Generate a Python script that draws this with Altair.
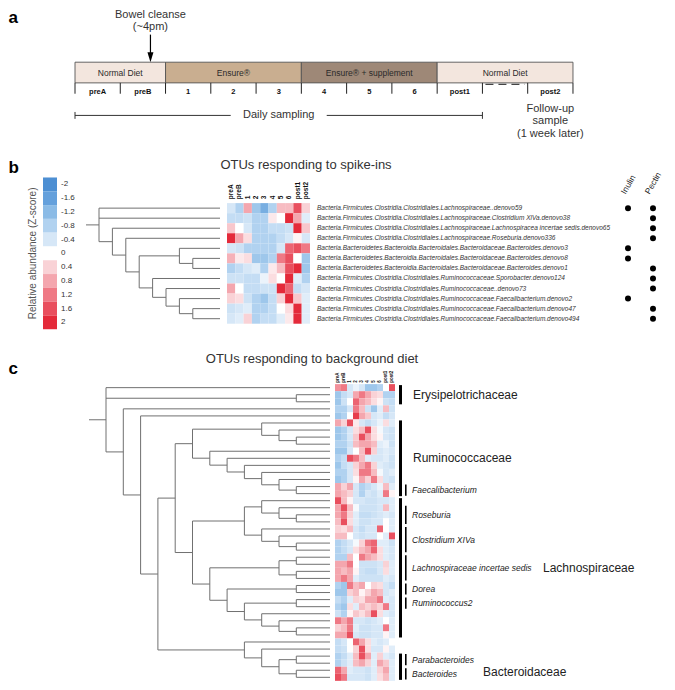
import altair as alt
import pandas as pd

FONT = "Liberation Sans"

# ---------------- data ----------------
timeline_slots = ["preA", "preB", "1", "2", "3", "4", "5", "6", "post1", "", "post2"]
phase_names = ["Normal Diet", "Ensure\u00ae", "Ensure\u00ae + supplement", "Normal Diet"]
phase_start = [0, 2, 5, 8]
phase_end = [2, 5, 8, 11]
cleanse_slot = 1 + 16 / 24          # ~4 pm on the preB day
daily_sampling_end = 9              # daily sampling covers slots 0..9
gap_slot = 9                        # dashed gap before the follow-up

samples = ["preA", "preB", "1", "2", "3", "4", "5", "6", "post1", "post2"]
legend_values = [-2, -1.6, -1.2, -0.8, -0.4, 0, 0.4, 0.8, 1.2, 1.6, 2]
legend_labels = ["-2", "-1.6", "-1.2", "-0.8", "-0.4", "0", "0.4", "0.8", "1.2", "1.6", "2"]

b_labels = [
    "Bacteria.Firmicutes.Clostridia.Clostridiales.Lachnospiraceae..denovo59",
    "Bacteria.Firmicutes.Clostridia.Clostridiales.Lachnospiraceae.Clostridium XlVa.denovo38",
    "Bacteria.Firmicutes.Clostridia.Clostridiales.Lachnospiraceae.Lachnospiracea incertae sedis.denovo65",
    "Bacteria.Firmicutes.Clostridia.Clostridiales.Lachnospiraceae.Roseburia.denovo336",
    "Bacteria.Bacteroidetes.Bacteroidia.Bacteroidales.Bacteroidaceae.Bacteroides.denovo3",
    "Bacteria.Bacteroidetes.Bacteroidia.Bacteroidales.Bacteroidaceae.Bacteroides.denovo8",
    "Bacteria.Bacteroidetes.Bacteroidia.Bacteroidales.Bacteroidaceae.Bacteroides.denovo1",
    "Bacteria.Firmicutes.Clostridia.Clostridiales.Ruminococcaceae.Sporobacter.denovo124",
    "Bacteria.Firmicutes.Clostridia.Clostridiales.Ruminococcaceae..denovo73",
    "Bacteria.Firmicutes.Clostridia.Clostridiales.Ruminococcaceae.Faecalibacterium.denovo2",
    "Bacteria.Firmicutes.Clostridia.Clostridiales.Ruminococcaceae.Faecalibacterium.denovo47",
    "Bacteria.Firmicutes.Clostridia.Clostridiales.Ruminococcaceae.Faecalibacterium.denovo494",
]
b_values = [
    [-0.4, -0.8, 0.8, -1.0, -1.4, -0.8, 0.6, 0.6, 1.6, 0.4],
    [-0.6, -0.6, -0.5, -0.8, -0.8, 0.2, 0.0, 2.0, 0.8, -0.3],
    [0.5, 0.0, -0.4, -0.8, -0.8, -0.6, -0.6, -0.5, 2.0, 0.5],
    [2.0, 0.8, 0.3, -0.8, -0.8, -0.8, -0.6, -0.4, 0.1, -0.4],
    [-0.4, -0.5, -0.8, -0.8, -0.8, -0.8, -0.4, 1.4, 1.6, 1.2],
    [0.7, 0.2, 0.3, -1.0, -1.0, -0.8, 1.2, 1.6, 0.0, -1.0],
    [-0.8, -0.6, -0.4, -0.3, -0.8, 0.2, 0.6, 1.6, 2.0, -1.0],
    [-0.5, -0.5, -0.6, -0.6, -0.2, 0.3, 0.0, 2.0, -0.3, -0.8],
    [0.8, 0.0, -0.6, -0.6, -0.5, -0.5, 2.0, 1.4, -0.6, -0.4],
    [0.4, 0.3, -0.5, -0.8, -1.0, -0.6, 0.4, 2.0, 0.5, -0.3],
    [-0.5, -0.4, -0.3, -0.8, -0.8, -0.6, 0.0, 0.3, 2.0, -0.3],
    [-0.4, -0.3, 0.4, -0.8, -0.6, -0.6, -0.3, 0.2, 2.0, -0.3],
]
b_inulin = [1, 0, 0, 0, 1, 1, 0, 0, 0, 1, 0, 0]
b_pectin = [1, 1, 1, 1, 0, 0, 1, 1, 1, 0, 1, 1]
# dendrogram: [level, child, child, ...]; integers are leaf rows
b_tree = [0, 0, 1, [1, 2, [2, 3, [3, [6, 4, [7, 5, 6]],
                                  [4, 7, [5, 8, [6, 9, [7, 10, 11]]]]]]]]

c_values = [
    [1.0, 1.2, -0.4, -0.2, -0.4, -1.0, -1.0, -0.8, 0.0, 1.6],
    [-1.0, -0.6, -0.4, 0.8, 1.2, 0.8, 0.4, 0.3, -0.8, -0.8],
    [-1.0, -0.5, 0.0, 1.4, 0.8, 0.6, 0.3, 0.1, -0.5, -0.6],
    [-0.8, -0.8, -0.4, 1.2, 0.6, -0.5, -1.0, -0.3, 0.6, -0.5],
    [-1.0, -0.8, 0.0, 1.8, 0.8, 0.5, -0.4, -0.3, -0.6, -0.4],
    [0.8, 0.4, 1.6, 0.2, -0.4, -0.6, -0.4, -0.2, 0.3, -0.3],
    [-1.0, -0.8, -0.4, 0.3, 0.6, 1.6, 0.3, -0.1, -0.4, -0.5],
    [-1.0, -0.8, -0.4, 0.5, 1.6, 0.8, 0.3, 0.1, -0.4, -0.5],
    [-0.8, -0.8, -0.5, 0.6, 0.8, 0.8, 0.6, -0.3, -0.2, -0.5],
    [-1.0, -1.0, -0.4, 0.0, 0.6, 1.6, 0.4, -0.4, -0.3, -0.4],
    [-0.8, -0.6, 1.6, 1.2, 0.6, -0.3, -0.4, -0.4, -0.3, -0.5],
    [-1.0, -0.6, -0.4, 0.4, 0.8, 1.2, 0.4, -0.3, -0.4, -0.5],
    [-0.8, -0.8, -0.4, 0.3, 1.2, 1.2, 0.6, -0.1, -0.4, -0.3],
    [-1.0, -0.8, -0.4, 0.1, 0.8, 0.4, 1.2, 0.3, -0.4, -0.5],
    [0.8, 0.4, 0.8, -0.4, -0.8, -0.6, -0.4, -0.2, 0.6, -0.3],
    [0.8, 0.6, 0.4, -0.4, -0.8, -0.4, -0.5, -0.3, 1.2, 0.1],
    [1.6, 0.6, 0.1, -0.4, -0.4, -0.5, -0.5, -0.4, -0.4, -0.3],
    [0.8, 1.6, 0.6, -0.1, -0.5, -0.5, -0.5, -0.4, 0.6, -0.3],
    [0.8, 1.2, 0.4, -0.3, -0.6, -0.6, -0.5, -0.4, -0.3, -0.4],
    [0.6, 1.6, 0.3, -0.3, -0.5, -0.5, -0.4, -0.4, 0.0, -0.3],
    [0.4, 0.3, 0.6, -0.4, -0.6, -0.4, -0.4, 1.4, 0.0, -0.3],
    [0.6, 0.6, 0.0, -0.4, -0.5, -0.4, -0.4, 0.0, -0.3, 1.6],
    [-0.8, -0.6, -0.4, -0.1, 0.4, 1.2, 1.4, -0.3, -0.3, -0.5],
    [-0.8, -0.6, -0.4, 0.3, 0.6, 0.8, 1.4, 0.3, -0.3, -0.4],
    [-0.8, -0.8, 0.6, 0.0, 1.2, 0.8, 0.6, 0.3, -0.3, -0.4],
    [0.8, 0.8, 1.2, 0.0, -0.5, -0.5, -0.5, -0.4, 0.4, -0.3],
    [0.8, 0.6, 0.8, 0.1, -0.5, -0.6, -0.6, -0.4, 0.3, -0.3],
    [0.8, 1.2, 0.8, -0.3, -0.5, -0.5, -0.5, -0.5, -0.3, -0.4],
    [-0.8, -1.0, 1.2, 0.6, 0.8, 0.0, 0.4, 0.3, -0.4, -0.6],
    [-1.0, -1.0, 0.4, 0.6, 0.1, 0.4, 0.8, 0.6, -0.4, -0.3],
    [-0.6, -0.8, -0.3, 0.4, 0.3, 0.8, 0.8, 1.2, -0.3, -0.4],
    [-0.8, -1.0, 0.3, -0.3, 0.6, 0.4, 0.6, 0.4, 1.2, -0.4],
    [-0.5, -0.8, 0.1, 0.5, 0.3, 0.6, 1.6, 0.3, -0.3, -0.4],
    [1.2, 0.8, 1.2, -0.4, -0.4, -0.5, -0.4, -0.3, 0.0, -0.3],
    [0.4, 0.6, 1.2, -0.3, -0.5, -0.5, -0.4, -0.4, 1.2, -0.3],
    [0.8, 0.8, 1.6, -0.4, -0.5, -0.5, -0.4, -0.4, 0.1, -0.3],
    [-0.6, -0.4, 0.0, 1.4, 0.8, 0.3, -0.3, -0.4, -0.3, 0.0],
    [-0.6, -0.5, 0.0, 0.4, 1.6, 0.3, -0.4, -0.4, 0.1, -0.3],
    [-0.8, -0.6, -0.3, 0.6, 1.6, 0.8, -0.3, 0.4, -0.3, -0.4],
    [-0.8, -0.5, -0.3, 0.6, 0.8, 0.4, -0.3, 0.8, 0.5, -0.3],
    [1.4, 0.8, -0.3, -0.4, -0.4, -0.5, -0.3, 0.4, 0.8, -0.3],
    [1.6, 1.2, -0.4, -0.4, -0.4, -0.5, -0.3, 0.3, 0.6, -0.3],
]
c_tree = [0, 0, [11, 1, 2],
          [1, 3, [2, 4, [3,
            [4,
             [5, [9, 5, [10, 6, [11, 7, 8]]],
                 [6, 9, [7, 10, [8, 11, [9, 12, [10, 13, [11, 14, 15]]]]]]],
             [5, [8, [9, 16, [10, 17, [11, 18, 19]]],
                     [9, 20, [10, 21, [11, 22, 23]]]],
                 [6, [10, [11, 24, 25], [11, 26, 27]],
                     [7, [11, 28, 29],
                         [8, [11, 30, 31], [9, 32, [10, 33, [11, 34, 35]]]]]]]],
            [8, 36, [9, 37, [10, [11, 38, 39], [11, 40, 41]]]]]]]]
c_families = ["Erysipelotrichaceae", "Ruminococcaceae", "Lachnospiraceae", "Bacteroidaceae"]
c_family_rows = [(0, 2), (5, 15), (16, 35), (38, 41)]
c_genera = ["Faecalibacterium", "Roseburia", "Clostridium XIVa",
            "Lachnospiraceae incertae sedis", "Dorea", "Ruminococcus2",
            "Parabacteroides", "Bacteroides"]
c_genus_rows = [(14, 15), (17, 19), (20, 23), (24, 27), (28, 29), (30, 31), (38, 39), (40, 41)]

# ---------------- styles / layout ----------------
legend_colors = ["#4d8fd3", "#64a0dc", "#8bbbe6", "#b1d2f0", "#d6e7f7", "#ffffff",
                 "#f9d2d6", "#f4a6ae", "#ef7985", "#e94f5e", "#e42a3a"]
phase_fills = ["#f3e6de", "#c9ae90", "#9e8877", "#f3e6de"]
DENDRO = "#707070"

TL_X0, TL_SLOT, TL_TOP, TL_BOT = 75, 45.27, 59, 80
LG_X0, LG_X1, LG_Y0, LG_H = 43, 57, 176, 14
B_X0, B_W, B_Y0, B_H = 227, 8.3, 202, 10.2
C_X0, C_W, C_Y0, C_H = 335, 6.0, 385.7, 7.17
INULIN_X, PECTIN_X = 628, 653
family_label_x = [413, 413, 543, 483]
family_label_dy = [0, 0, 0, 5]

XS = alt.Scale(domain=[8, 667], nice=False, zero=False)
YS = alt.Scale(domain=[4, 688], nice=False, zero=False, reverse=True)
X = alt.X("x:Q", scale=XS, axis=None)
Y = alt.Y("y:Q", scale=YS, axis=None)
ZCOL = alt.Color("z:Q", scale=alt.Scale(domain=legend_values, range=legend_colors,
                                        interpolate="rgb"), legend=None)

layers = []


def text_layer(rows, size, color="#333", weight="normal", style="normal",
               align="center", baseline="middle", angle=0):
    df = pd.DataFrame(rows, columns=["x", "y", "text"])
    kw = dict(font=FONT, fontSize=size, color=color, fontWeight=weight,
              fontStyle=style, align=align, baseline=baseline)
    if angle:
        kw["angle"] = angle
    return alt.Chart(df).mark_text(**kw).encode(x=X, y=Y, text="text:N")


def rule_layer(segs, color=DENDRO, width=1.0, dash=None):
    df = pd.DataFrame(segs, columns=["x", "y", "x2", "y2"])
    kw = dict(color=color, strokeWidth=width)
    if dash:
        kw["strokeDash"] = dash
    return alt.Chart(df).mark_rule(**kw).encode(x=X, y=Y, x2="x2:Q", y2="y2:Q")


def dendro(tree, leaf_y, leaf_x, level_x, stub):
    segs = []

    def walk(node):
        if isinstance(node, int):
            return leaf_x, leaf_y(node)
        x = level_x(node[0])
        pts = [walk(ch) for ch in node[1:]]
        ys = [p[1] for p in pts]
        segs.append((x, min(ys), x, max(ys)))
        for cx, cy in pts:
            segs.append((x, cy, cx, cy))
        return x, (ys[0] + ys[-1]) / 2

    rx, ry = walk(tree)
    segs.append((rx - stub, ry, rx, ry))
    return segs


def heat_df(values, x0, w, y0, h):
    rows = []
    for i, r in enumerate(values):
        for j, v in enumerate(r):
            rows.append(dict(x=x0 + j * w, x2=x0 + (j + 1) * w,
                             y=y0 + i * h, y2=y0 + (i + 1) * h, z=v))
    return pd.DataFrame(rows)


slot_x = lambda s: TL_X0 + s * TL_SLOT

# ---------------- panel a ----------------
layers.append(text_layer([(8.5, 14, "a")], 17, color="#000", weight="bold", align="left"))
layers.append(text_layer([(slot_x(cleanse_slot), 11, "Bowel cleanse"),
                          (slot_x(cleanse_slot), 23.5, "(~4pm)")], 11))
layers.append(rule_layer([(slot_x(cleanse_slot), 31, slot_x(cleanse_slot), 50)],
                         color="#000", width=1.2))
layers.append(alt.Chart(pd.DataFrame({"x": [slot_x(cleanse_slot)], "y": [54]}))
              .mark_point(shape="M-0.6,-1L0.6,-1L0,1Z", filled=True, size=100,
                          color="#000", opacity=1).encode(x=X, y=Y))
ph = pd.DataFrame({"x": [slot_x(s) for s in phase_start], "x2": [slot_x(e) for e in phase_end],
                   "y": TL_TOP, "y2": TL_BOT, "fill": phase_fills})
layers.append(alt.Chart(ph).mark_rect(stroke="#555", strokeWidth=0.9).encode(
    x=X, x2="x2:Q", y=Y, y2="y2:Q", color=alt.Color("fill:N", scale=None, legend=None)))
layers.append(text_layer([((slot_x(s) + slot_x(e)) / 2, (TL_TOP + TL_BOT) / 2, n)
                          for n, s, e in zip(phase_names, phase_start, phase_end)], 8.5, color="#2a2a2a"))
layers.append(rule_layer([(slot_x(k), TL_BOT, slot_x(k), TL_BOT + 11)
                          for k in range(len(timeline_slots) + 1)], color="#222", width=1))
layers.append(rule_layer([(slot_x(gap_slot) + 3, TL_BOT + 1.5, slot_x(gap_slot + 1) - 3, TL_BOT + 1.5)],
                         color="#444", width=1.2, dash=[8, 5]))
layers.append(text_layer([(slot_x(k + 0.5), 89.5, t) for k, t in enumerate(timeline_slots) if t],
                         7.5, color="#111", weight="bold"))
ds_y = 113
ds_x0, ds_x1 = slot_x(0), slot_x(daily_sampling_end)
ds_mid = (ds_x0 + ds_x1) / 2
layers.append(rule_layer([(ds_x0, ds_y, ds_mid - 48, ds_y), (ds_mid + 48, ds_y, ds_x1, ds_y),
                          (ds_x0, ds_y - 3.5, ds_x0, ds_y + 3.5), (ds_x1, ds_y - 3.5, ds_x1, ds_y + 3.5)],
                         color="#333", width=1))
layers.append(text_layer([(ds_mid, ds_y, "Daily sampling"),
                          (slot_x(10.5), 106, "Follow-up"),
                          (slot_x(10.5), 119, "sample"),
                          (slot_x(10.5), 131.5, "(1 week later)")], 11))

# ---------------- panel b ----------------
layers.append(text_layer([(8.5, 166, "b")], 17, color="#000", weight="bold", align="left"))
layers.append(text_layer([(306, 163, "OTUs responding to spike-ins")], 13))
lg = pd.DataFrame({"x": LG_X0, "x2": LG_X1,
                   "y": [LG_Y0 + k * LG_H for k in range(len(legend_values))],
                   "y2": [LG_Y0 + (k + 1) * LG_H for k in range(len(legend_values))],
                   "z": legend_values})
layers.append(alt.Chart(lg).mark_rect().encode(x=X, x2="x2:Q", y=Y, y2="y2:Q", color=ZCOL))
layers.append(text_layer([(LG_X1 + 4, LG_Y0 + (k + 0.5) * LG_H, t) for k, t in enumerate(legend_labels)],
                         8, align="left"))
layers.append(text_layer([(33, LG_Y0 + len(legend_values) * LG_H / 2, "Relative abundance (Z-score)")],
                         10, color="#555", angle=270))
layers.append(alt.Chart(heat_df(b_values, B_X0, B_W, B_Y0, B_H)).mark_rect().encode(
    x=X, x2="x2:Q", y=Y, y2="y2:Q", color=ZCOL))
layers.append(text_layer([(B_X0 + (j + 0.5) * B_W, B_Y0 - 4, s) for j, s in enumerate(samples)],
                         6.5, color="#111", weight="bold", align="left", angle=270))
layers.append(text_layer([(B_X0 + 10 * B_W + 7, B_Y0 + (i + 0.5) * B_H, t) for i, t in enumerate(b_labels)],
                         6.5, color="#333", style="italic", align="left"))
layers.append(rule_layer(dendro(b_tree, lambda i: B_Y0 + (i + 0.5) * B_H, B_X0 - 7,
                                lambda lv: 99 + 13.4 * lv, 13)))
dots = [(INULIN_X, B_Y0 + (i + 0.5) * B_H) for i, v in enumerate(b_inulin) if v] + \
       [(PECTIN_X, B_Y0 + (i + 0.5) * B_H) for i, v in enumerate(b_pectin) if v]
layers.append(alt.Chart(pd.DataFrame(dots, columns=["x", "y"])).mark_circle(
    size=36, color="#000", opacity=1).encode(x=X, y=Y))
layers.append(text_layer([(INULIN_X - 5, 192, "Inulin"), (PECTIN_X - 6, 192, "Pectin")], 8.5,
                         color="#222", align="left", angle=300))

# ---------------- panel c ----------------
layers.append(text_layer([(8.5, 370, "c")], 17, color="#000", weight="bold", align="left"))
layers.append(text_layer([(312, 360, "OTUs responding to background diet")], 13))
layers.append(alt.Chart(heat_df(c_values, C_X0, C_W, C_Y0, C_H)).mark_rect().encode(
    x=X, x2="x2:Q", y=Y, y2="y2:Q", color=ZCOL))
layers.append(text_layer([(C_X0 + (j + 0.5) * C_W, C_Y0 - 1.5, s) for j, s in enumerate(samples)],
                         4.5, color="#111", weight="bold", align="left", angle=270))
layers.append(rule_layer(dendro(c_tree, lambda i: C_Y0 + (i + 0.5) * C_H, C_X0 - 5,
                                lambda lv: 106 + 17.3 * lv, 17)))
fam_bars = pd.DataFrame({"x": 399, "x2": 402,
                         "y": [C_Y0 + a * C_H + 1 for a, b in c_family_rows],
                         "y2": [C_Y0 + (b + 1) * C_H - 1 for a, b in c_family_rows]})
gen_bars = pd.DataFrame({"x": 405, "x2": 406.6,
                         "y": [C_Y0 + a * C_H + 1.5 for a, b in c_genus_rows],
                         "y2": [C_Y0 + (b + 1) * C_H - 1.5 for a, b in c_genus_rows]})
for bars in (fam_bars, gen_bars):
    layers.append(alt.Chart(bars).mark_rect(color="#000").encode(x=X, x2="x2:Q", y=Y, y2="y2:Q"))
layers.append(text_layer([(lx, C_Y0 + (a + b + 1) / 2 * C_H + dy, n) for n, (a, b), lx, dy
                          in zip(c_families, c_family_rows, family_label_x, family_label_dy)],
                         12, color="#222", align="left"))
layers.append(text_layer([(412, C_Y0 + (a + b + 1) / 2 * C_H, n) for n, (a, b) in zip(c_genera, c_genus_rows)],
                         8.5, color="#222", style="italic", align="left"))

chart = (alt.layer(*layers)
         .resolve_scale(color="independent")
         .properties(width=659, height=674, padding=0,
                     autosize=alt.AutoSizeParams(type="none"))
         .configure_view(stroke=None))

chart.save("out.html", embed_options={"renderer": "svg", "actions": False})
